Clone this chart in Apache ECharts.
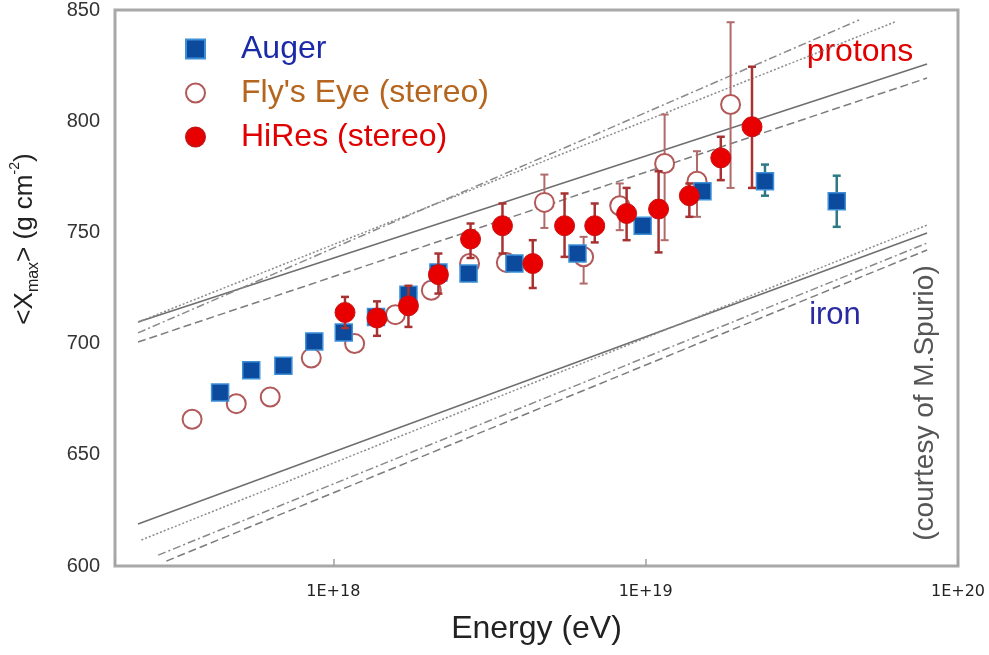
<!DOCTYPE html>
<html><head><meta charset="utf-8">
<script src="https://cdn.jsdelivr.net/npm/echarts@6/dist/echarts.min.js"></script>
<style>html,body{margin:0;padding:0;background:#fff}#c{width:989px;height:655px}</style>
</head><body><div id="c"></div>
<script>
// ---- Data (energy in eV, <Xmax> in g/cm^2) ----
const augerE  = [4.34e17, 5.46e17, 6.92e17, 8.69e17, 1.08e18, 1.37e18, 1.74e18, 2.17e18, 2.71e18, 3.80e18, 6.05e18, 9.78e18, 1.52e19, 2.41e19, 4.09e19];
const augerX  = [678, 688, 690, 701, 705, 712, 722, 732, 731.5, 736, 740.5, 753, 768.5, 773, 764];
const augerLo = [null, null, null, null, null, null, null, null, null, null, null, null, null, 766.5, 752.5];
const augerHi = [null, null, null, null, null, null, null, null, null, null, null, null, null, 780.5, 775.5];

const flysE  = [3.53e17, 4.89e17, 6.28e17, 8.50e17, 1.17e18, 1.58e18, 2.06e18, 2.73e18, 3.58e18, 4.74e18, 6.33e18, 8.26e18, 1.15e19, 1.46e19, 1.87e19];
const flysX  = [666, 673, 676, 693.5, 700, 713, 724, 736, 736.5, 763.5, 739, 762, 781, 773, 807.5];
const flysLo = [null, null, null, null, null, null, null, null, null, 752, 727, 751, 746.5, 757, 770];
const flysHi = [null, null, null, null, null, null, null, null, null, 776, 748, 772, 803, 786.5, 844.5];

const hiresE  = [1.09e18, 1.38e18, 1.74e18, 2.17e18, 2.75e18, 3.48e18, 4.35e18, 5.50e18, 6.87e18, 8.69e18, 1.10e19, 1.38e19, 1.74e19, 2.19e19];
const hiresX  = [714, 711.5, 717, 731, 747, 753, 736, 753, 753, 758.5, 760.5, 766.5, 783.5, 797.5];
const hiresLo = [707, 703.5, 707.5, 722.5, 738.5, 740.5, 725, 739, 745.5, 746.5, 741, 757, 773.5, 770];
const hiresHi = [721, 719, 726, 740.5, 754, 763, 746.5, 767.5, 763, 770, 777.5, 772, 793, 824.5];

// model predictions (start / end points)
const protonSolidE   = [2.37e17, 7.96e19]; const protonSolidX   = [709.7, 825.7];
const protonDottedE  = [2.37e17, 6.28e19]; const protonDottedX  = [709.7, 844.6];
const protonDashDotE = [2.37e17, 4.82e19]; const protonDashDotX = [704.8, 845.5];
const protonDashedE  = [2.37e17, 7.96e19]; const protonDashedX  = [700.7, 819.4];
const ironSolidE     = [2.37e17, 7.96e19]; const ironSolidX     = [618.9, 749.7];
const ironDottedE    = [2.43e17, 7.96e19]; const ironDottedX    = [611.7, 753.3];
const ironDashDotE   = [2.75e17, 7.96e19]; const ironDashDotX   = [604.9, 745.2];
const ironDashedE    = [2.92e17, 7.96e19]; const ironDashedX    = [602.2, 742.1];

const yTicks = [600, 650, 700, 750, 800, 850];

// ---- helpers ----
const zip = (a, b) => a.map((v, i) => [v, b[i]]);
const errData = (e, lo, hi) => e.map((v, i) => [v, lo[i], hi[i]]).filter(d => d[1] != null);
function errRender(color, width, cap) {
  return function (params, api) {
    const x = api.value(0), lo = api.value(1), hi = api.value(2);
    const a = api.coord([x, hi]), b = api.coord([x, lo]);
    const st = { stroke: color, lineWidth: width };
    return { type: 'group', children: [
      { type: 'line', shape: { x1: a[0], y1: a[1], x2: b[0], y2: b[1] }, style: st },
      { type: 'line', shape: { x1: a[0] - cap, y1: a[1], x2: a[0] + cap, y2: a[1] }, style: st },
      { type: 'line', shape: { x1: b[0] - cap, y1: b[1], x2: b[0] + cap, y2: b[1] }, style: st }
    ]};
  };
}
function modelLine(name, e, x, color, type, width) {
  return { name: name, type: 'line', data: zip(e, x), symbol: 'none', silent: true, z: 1,
    lineStyle: { color: color, width: width, type: type } };
}
const FONT = 'Liberation Sans, Arial, sans-serif';

const chart = echarts.init(document.getElementById('c'), null, { renderer: 'canvas' });
chart.setOption({
  animation: false,
  backgroundColor: '#ffffff',
  grid: { left: 115, right: 31, top: 10, bottom: 89, show: true, borderColor: '#a8a8a8', borderWidth: 3 },
  legend: {
    orient: 'vertical', left: 180, top: 28, itemWidth: 19, itemHeight: 19, itemGap: 12,
    selectedMode: false,
    textStyle: { fontSize: 32, fontFamily: FONT, padding: [0, 0, 0, 31] },
    data: [
      { name: 'Auger', textStyle: { color: '#1b2aa6' } },
      { name: "Fly's Eye (stereo)", textStyle: { color: '#b5651d' } },
      { name: 'HiRes (stereo)', textStyle: { color: '#e00000' } }
    ]
  },
  xAxis: {
    type: 'log', logBase: 10, min: 2e17, max: 1e20,
    axisLine: { show: false }, splitLine: { show: false },
    axisTick: { show: true, inside: true, length: 7, lineStyle: { color: '#a0a0a0', width: 1.5 } },
    axisLabel: {
      margin: 18, fontFamily: 'DejaVu Sans', fontSize: 16, color: '#222',
      formatter: function (v) { const l = Math.log10(v); const r = Math.round(l); return Math.abs(l - r) < 1e-6 ? '1E+' + r : ''; }
    },
    name: 'Energy (eV)', nameLocation: 'middle', nameGap: 47,
    nameTextStyle: { fontSize: 32, color: '#222', fontFamily: FONT }
  },
  yAxis: {
    type: 'value', min: yTicks[0], max: yTicks[yTicks.length - 1], interval: 50,
    axisLine: { show: false }, axisTick: { show: false }, splitLine: { show: false },
    axisLabel: { margin: 15, fontSize: 20, color: '#333', fontFamily: FONT }
  },
  graphic: [
    { type: 'text', x: 25, y: 239, rotation: Math.PI / 2, silent: true,
      style: { text: '{n|<X}{sub|max}{n|> (g cm}{sup|-2}{n|)}', align: 'center', verticalAlign: 'middle', fill: '#222',
        fontSize: 26, fontFamily: FONT,
        rich: {
          n: { fontSize: 26, fontFamily: FONT, lineHeight: 34, fill: '#222' },
          sub: { fontSize: 16, fontFamily: FONT, lineHeight: 16, verticalAlign: 'bottom', fill: '#222' },
          sup: { fontSize: 14, fontFamily: FONT, lineHeight: 14, verticalAlign: 'top', fill: '#222' }
        } } },
    { type: 'text', x: 860, y: 52, silent: true,
      style: { text: 'protons', align: 'center', verticalAlign: 'middle', fill: '#e00000', fontSize: 32, fontFamily: FONT } },
    { type: 'text', x: 835, y: 315, silent: true,
      style: { text: 'iron', align: 'center', verticalAlign: 'middle', fill: '#2a2aa0', fontSize: 31, fontFamily: FONT } },
    { type: 'text', x: 925, y: 403, rotation: Math.PI / 2, silent: true,
      style: { text: '(courtesy of M.Spurio)', align: 'center', verticalAlign: 'middle', fill: '#555', fontSize: 28, fontFamily: FONT } }
  ],
  series: [
    modelLine('p-solid', protonSolidE, protonSolidX, '#6e6e6e', 'solid', 1.5),
    modelLine('p-dotted', protonDottedE, protonDottedX, '#8c8c8c', [2, 2], 1.5),
    modelLine('p-dashdot', protonDashDotE, protonDashDotX, '#8a8a8a', [8, 3, 2, 3], 1.5),
    modelLine('p-dashed', protonDashedE, protonDashedX, '#7c7c7c', [8, 4], 1.5),
    modelLine('fe-solid', ironSolidE, ironSolidX, '#6e6e6e', 'solid', 1.5),
    modelLine('fe-dotted', ironDottedE, ironDottedX, '#8c8c8c', [2, 2], 1.5),
    modelLine('fe-dashdot', ironDashDotE, ironDashDotX, '#8a8a8a', [8, 3, 2, 3], 1.5),
    modelLine('fe-dashed', ironDashedE, ironDashedX, '#7c7c7c', [8, 4], 1.5),
    { name: 'fly-err', type: 'custom', z: 2, silent: true, encode: { x: 0, y: [1, 2] },
      data: errData(flysE, flysLo, flysHi), renderItem: errRender('#b06a6a', 2, 4) },
    { name: "Fly's Eye (stereo)", type: 'scatter', z: 3, symbol: 'circle', symbolSize: 19,
      data: zip(flysE, flysX), itemStyle: { color: '#ffffff', borderColor: '#b25858', borderWidth: 2, opacity: 1 } },
    { name: 'auger-err', type: 'custom', z: 4, silent: true, encode: { x: 0, y: [1, 2] },
      data: errData(augerE, augerLo, augerHi), renderItem: errRender('#2d7a85', 2.5, 4) },
    { name: 'Auger', type: 'scatter', z: 5, symbol: 'rect', symbolSize: 17,
      data: zip(augerE, augerX), itemStyle: { color: '#0c4a9e', borderColor: '#3d8fd8', borderWidth: 1.5, opacity: 1 } },
    { name: 'hires-err', type: 'custom', z: 6, silent: true, encode: { x: 0, y: [1, 2] },
      data: errData(hiresE, hiresLo, hiresHi), renderItem: errRender('#a83232', 2.5, 4) },
    { name: 'HiRes (stereo)', type: 'scatter', z: 7, symbol: 'circle', symbolSize: 20,
      data: zip(hiresE, hiresX), itemStyle: { color: '#e80000', borderColor: '#c81010', borderWidth: 1, opacity: 1 } }
  ]
});
</script></body></html>
